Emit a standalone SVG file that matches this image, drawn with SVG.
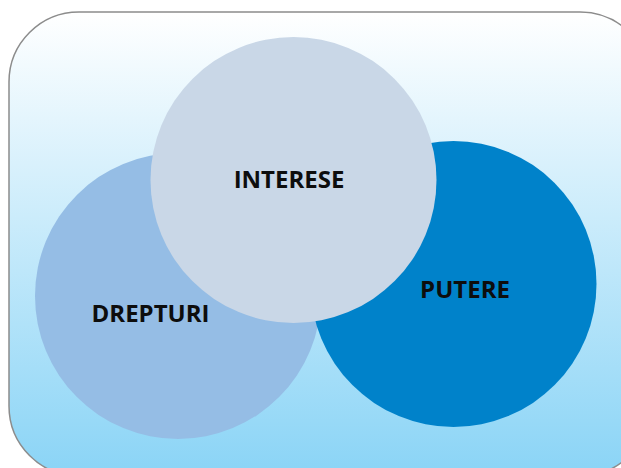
<svg xmlns="http://www.w3.org/2000/svg" width="621" height="468" viewBox="0 0 621 468">
  <defs>
    <linearGradient id="bg" x1="0" y1="0" x2="0" y2="1">
      <stop offset="0" stop-color="#ffffff"/>
      <stop offset="1" stop-color="#8ad4f6"/>
    </linearGradient>
  </defs>
  <style>
    .lbl { font-family: "Open Sans", "Liberation Sans", sans-serif; font-weight: bold; font-size: 24px; fill: #0d0d0d; text-anchor: middle; }
  </style>
  <rect id="frame" x="9" y="12" width="641" height="464" rx="70" ry="70" fill="url(#bg)" stroke="#8c8c8c" stroke-width="1.5"/>
  <g id="connectors"></g>
  <g id="drepturi">
    <circle cx="178" cy="296" r="143" fill="#95bde5"/>
    <text class="lbl" x="150.5" y="322">DREPTURI</text>
  </g>
  <g id="putere">
    <circle cx="453.5" cy="284" r="143" fill="#0082ca"/>
    <text class="lbl" x="465" y="298">PUTERE</text>
  </g>
  <g id="interese">
    <circle cx="293.5" cy="180" r="143" fill="#c9d7e7"/>
    <text class="lbl" x="289" y="188">INTERESE</text>
  </g>
</svg>
